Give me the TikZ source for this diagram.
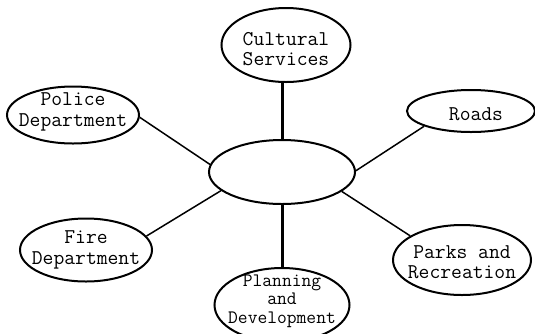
\documentclass[tikz,border=0pt]{standalone}
\usepackage{tikz}
\usetikzlibrary{shapes.geometric}

\begin{document}
\begin{tikzpicture}[x=1pt,y=-1pt,
    blob/.style={draw, ellipse, line width=2pt, inner sep=0pt},
    spoke/.style={line width=1.5pt},
    trunk/.style={line width=3pt},
    every label/.style={align=center, font=\ttfamily\fontsize{21}{20.5}\selectfont}]
          \useasboundingbox (0,0) rectangle (535,333);
          % the hub
          \node [blob, minimum width=146pt, minimum height=64pt] (hub) at (282,172) {};
          % the departments
          \node [blob, minimum width=129pt, minimum height=74pt,
                 label={[yshift=-4pt]center:{Cultural\\Services}}] (cultural) at (286,45) {};
          \node [blob, minimum width=132pt, minimum height=57pt,
                 label={[yshift=3pt]center:{Police\\Department}}] (police) at (73,115) {};
          \node [blob, minimum width=128pt, minimum height=42pt,
                 label={[xshift=5pt,yshift=-3pt]center:Roads}] (roads) at (471,111) {};
          \node [blob, minimum width=132pt, minimum height=63pt,
                 label=center:{Fire\\Department}] (fire) at (86,250) {};
          \node [blob, minimum width=135pt, minimum height=74pt,
                 label={[yshift=4pt,font=\ttfamily\fontsize{19}{18.5}\selectfont]center:{Planning\\and\\Development}}] (planning) at (282,305) {};
          \node [blob, minimum width=138pt, minimum height=70pt,
                 label={[yshift=-2pt]center:{Parks and\\Recreation}}] (parks) at (462,260) {};
          % connectors
          \draw [trunk] (hub.north) -- (hub.north |- cultural.south);
          \draw [trunk] (hub.south) -- (planning.north);
          \draw [spoke] (hub.174) -- (police.-2);
          \draw [spoke] (hub.1) -- (roads.198);
          \draw [spoke] (hub.197) -- (fire.13);
          \draw [spoke] (hub.-18) -- (parks.155);
\end{tikzpicture}
\end{document}
